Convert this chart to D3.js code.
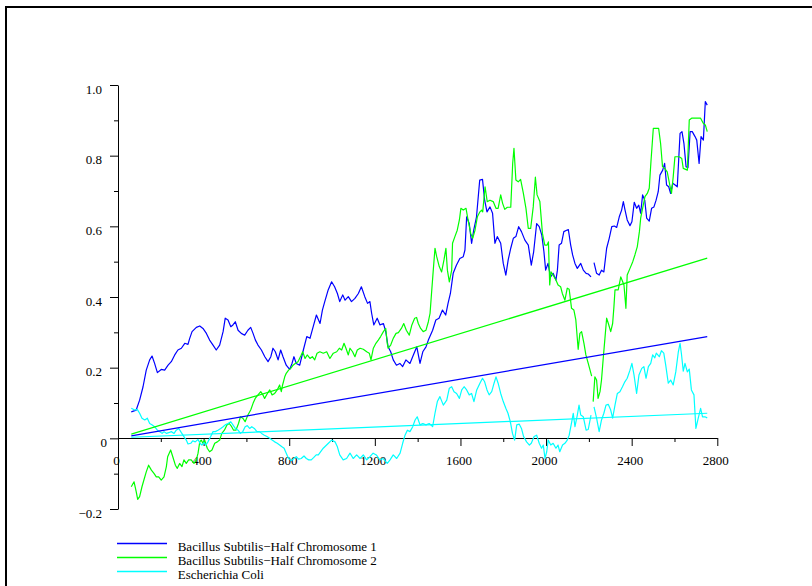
<!DOCTYPE html>
<html>
<head>
<meta charset="utf-8">
<script src="https://cdn.jsdelivr.net/npm/d3@7"></script>
<style>
  html, body { margin: 0; padding: 0; background: #fff; }
  svg { display: block; }
  text { font-family: "Liberation Serif", "Times New Roman", serif; font-size: 13px; fill: #000; }
</style>
</head>
<body>
<svg id="chart" width="812" height="586"></svg>
<script>
// Cumulative skew curves: [position, value]; null marks the break in each record.
const chromosome1 = [
  [62,0.075],[85,0.080],[101,0.108],[117,0.146],[132,0.193],[148,0.222],[159,0.233],[171,0.212],[184,0.186],[202,0.195],
  [218,0.193],[234,0.207],[249,0.217],[265,0.236],[280,0.250],[296,0.255],[312,0.269],[327,0.266],[335,0.283],[346,0.302],
  [366,0.314],[382,0.318],[397,0.311],[413,0.297],[428,0.278],[444,0.264],[459,0.250],[475,0.264],[491,0.302],[501,0.340],
  [514,0.335],[527,0.316],[537,0.321],[548,0.330],[561,0.306],[576,0.297],[592,0.292],[607,0.306],[620,0.314],[631,0.297],
  [642,0.278],[654,0.264],[670,0.250],[686,0.231],[701,0.217],[714,0.231],[724,0.255],[735,0.245],[748,0.222],[760,0.250],
  [771,0.231],[786,0.207],[802,0.195],[813,0.212],[822,0.231],[833,0.212],[849,0.207],[866,0.250],[882,0.288],[897,0.283],
  [912,0.316],[927,0.349],[944,0.325],[955,0.363],[966,0.387],[982,0.420],[998,0.443],[1012,0.429],[1025,0.410],[1036,0.387],
  [1050,0.406],[1061,0.391],[1076,0.401],[1091,0.387],[1107,0.396],[1123,0.410],[1137,0.429],[1153,0.401],[1166,0.382],[1177,0.387],
  [1185,0.354],[1195,0.321],[1211,0.340],[1224,0.321],[1240,0.325],[1251,0.302],[1262,0.259],[1274,0.245],[1286,0.222],[1301,0.207],
  [1317,0.212],[1330,0.203],[1345,0.222],[1364,0.212],[1380,0.236],[1396,0.259],[1411,0.212],[1424,0.245],[1439,0.259],[1450,0.278],
  [1470,0.306],[1485,0.335],[1500,0.340],[1516,0.363],[1531,0.349],[1542,0.382],[1553,0.410],[1566,0.467],[1581,0.490],[1597,0.509],
  [1613,0.514],[1621,0.533],[1629,0.627],[1641,0.608],[1652,0.552],[1662,0.589],[1675,0.627],[1690,0.731],[1703,0.733],[1713,0.674],
  [1724,0.641],[1738,0.655],[1750,0.637],[1761,0.552],[1772,0.571],[1788,0.552],[1800,0.495],[1812,0.462],[1823,0.505],[1835,0.538],
  [1847,0.566],[1859,0.571],[1872,0.599],[1885,0.585],[1901,0.561],[1917,0.547],[1931,0.490],[1942,0.528],[1956,0.608],[1968,0.599],
  [1980,0.575],[1990,0.528],[1998,0.476],[2009,0.495],[2021,0.457],[2033,0.467],[2046,0.448],[2053,0.476],[2061,0.547],[2072,0.552],
  [2083,0.585],[2096,0.589],[2104,0.591],[2115,0.547],[2124,0.519],[2135,0.495],[2146,0.481],[2162,0.495],[2174,0.476],[2187,0.467],
  [2197,0.465],[2210,0.457],
  null,
  [2224,0.497],[2236,0.467],[2248,0.462],[2259,0.476],[2270,0.471],[2283,0.538],[2295,0.566],[2307,0.599],[2319,0.601],[2330,0.597],
  [2342,0.627],[2353,0.646],[2361,0.670],[2369,0.646],[2379,0.618],[2392,0.602],[2401,0.613],[2412,0.668],[2423,0.651],[2433,0.660],
  [2442,0.637],[2451,0.689],[2461,0.674],[2470,0.623],[2482,0.615],[2493,0.651],[2504,0.655],[2514,0.674],[2524,0.698],[2532,0.745],
  [2545,0.759],[2554,0.778],[2563,0.717],[2573,0.712],[2582,0.693],[2592,0.722],[2603,0.717],[2613,0.712],[2626,0.863],[2635,0.868],
  [2644,0.835],[2654,0.769],[2663,0.766],[2673,0.868],[2683,0.868],[2696,0.854],[2704,0.844],[2715,0.778],[2724,0.854],[2735,0.844],
  [2744,0.953],[2753,0.943]
];

const chromosome2 = [
  [62,-0.137],[75,-0.123],[85,-0.151],[92,-0.173],[101,-0.165],[112,-0.137],[121,-0.118],[132,-0.095],[143,-0.076],[156,-0.090],
  [168,-0.099],[179,-0.109],[190,-0.109],[202,-0.118],[215,-0.109],[226,-0.080],[232,-0.052],[246,-0.033],[256,-0.052],[268,-0.076],
  [277,-0.085],[288,-0.071],[299,-0.080],[308,-0.061],[319,-0.071],[330,-0.061],[342,-0.061],[355,-0.071],[366,-0.061],[374,-0.042],
  [382,-0.010],[389,-0.005],[397,-0.014],[405,-0.005],[417,-0.028],[428,-0.038],[439,-0.033],[452,-0.014],[464,-0.010],[475,-0.005],
  [485,0.014],[497,0.023],[509,0.038],[520,0.042],[531,0.033],[540,0.023],[551,0.023],[563,0.042],[572,0.061],[583,0.057],
  [594,0.047],[607,0.066],[620,0.080],[631,0.099],[641,0.113],[654,0.123],[667,0.132],[677,0.123],[685,0.113],[698,0.127],
  [709,0.137],[720,0.123],[732,0.127],[744,0.137],[755,0.151],[763,0.132],[769,0.151],[779,0.174],[786,0.184],[797,0.193],
  [807,0.198],[818,0.207],[828,0.212],[841,0.217],[854,0.233],[863,0.245],[874,0.226],[884,0.236],[897,0.226],[908,0.231],
  [919,0.222],[930,0.241],[943,0.245],[959,0.241],[975,0.245],[990,0.226],[1006,0.241],[1022,0.245],[1034,0.255],[1045,0.250],
  [1056,0.269],[1065,0.255],[1076,0.236],[1084,0.255],[1096,0.245],[1107,0.231],[1118,0.250],[1131,0.255],[1146,0.252],[1162,0.245],
  [1174,0.241],[1182,0.222],[1193,0.255],[1205,0.269],[1216,0.278],[1227,0.288],[1240,0.302],[1251,0.311],[1258,0.269],[1262,0.255],
  [1274,0.264],[1286,0.283],[1299,0.297],[1310,0.299],[1324,0.311],[1335,0.325],[1347,0.306],[1361,0.292],[1373,0.321],[1386,0.340],
  [1395,0.342],[1403,0.325],[1414,0.311],[1426,0.302],[1439,0.306],[1450,0.330],[1458,0.354],[1466,0.420],[1473,0.476],[1481,0.538],
  [1489,0.514],[1501,0.486],[1512,0.471],[1523,0.505],[1532,0.538],[1539,0.476],[1548,0.443],[1559,0.476],[1563,0.552],[1574,0.571],
  [1585,0.589],[1595,0.618],[1602,0.651],[1613,0.646],[1626,0.651],[1637,0.613],[1648,0.580],[1657,0.566],[1668,0.589],[1679,0.627],
  [1691,0.641],[1699,0.646],[1704,0.641],[1715,0.712],[1725,0.670],[1738,0.674],[1753,0.670],[1766,0.651],[1776,0.651],[1788,0.689],
  [1797,0.665],[1807,0.648],[1819,0.654],[1835,0.654],[1844,0.778],[1850,0.821],[1859,0.731],[1870,0.726],[1881,0.733],[1894,0.693],
  [1906,0.651],[1917,0.594],[1928,0.594],[1940,0.655],[1950,0.739],[1958,0.689],[1971,0.670],[1983,0.580],[1994,0.547],[2005,0.547],
  [2011,0.556],[2017,0.434],[2023,0.471],[2033,0.462],[2046,0.448],[2056,0.434],[2068,0.429],[2076,0.410],[2088,0.391],[2099,0.425],
  [2108,0.422],[2119,0.368],[2130,0.363],[2139,0.335],[2150,0.252],[2158,0.297],[2166,0.302],[2177,0.269],[2186,0.236],[2197,0.212],
  [2213,0.176],
  null,
  [2220,0.104],[2228,0.174],[2236,0.165],[2243,0.113],[2252,0.132],[2259,0.165],[2267,0.226],[2275,0.283],[2283,0.340],[2291,0.325],
  [2302,0.302],[2311,0.325],[2317,0.372],[2322,0.420],[2337,0.420],[2349,0.457],[2358,0.443],[2364,0.434],[2373,0.368],[2379,0.462],
  [2392,0.481],[2405,0.500],[2415,0.519],[2426,0.542],[2436,0.585],[2442,0.623],[2451,0.651],[2462,0.684],[2473,0.693],[2482,0.708],
  [2490,0.783],[2501,0.877],[2517,0.877],[2526,0.877],[2535,0.835],[2544,0.769],[2554,0.764],[2566,0.754],[2578,0.717],[2586,0.693],
  [2594,0.740],[2602,0.797],[2622,0.797],[2634,0.792],[2641,0.764],[2660,0.759],[2669,0.901],[2680,0.906],[2704,0.906],[2722,0.906],
  [2735,0.891],[2744,0.887],[2753,0.868]
];

const ecoli = [
  [62,0.085],[78,0.080],[90,0.082],[101,0.071],[112,0.057],[125,0.052],[137,0.057],[148,0.042],[160,0.038],[171,0.033],
  [184,0.023],[195,0.019],[206,0.014],[215,0.019],[226,0.014],[237,0.016],[249,0.019],[262,0.014],[272,0.023],[284,0.028],
  [296,0.016],[308,0.005],[319,-0.005],[327,-0.016],[340,-0.014],[349,-0.007],[361,-0.010],[374,-0.003],[383,-0.014],[392,-0.019],
  [402,-0.012],[411,-0.019],[420,-0.010],[433,0.005],[444,0.019],[455,0.019],[467,0.023],[480,0.028],[491,0.033],[501,0.038],
  [514,0.042],[527,0.047],[537,0.038],[548,0.028],[561,0.023],[572,0.014],[583,0.019],[594,0.033],[604,0.036],[615,0.028],
  [625,0.033],[637,0.028],[649,0.019],[661,0.019],[671,0.014],[684,0.009],[696,0.005],[709,0.000],[720,-0.005],[732,-0.010],
  [744,-0.014],[755,-0.019],[766,-0.024],[776,-0.028],[786,-0.042],[797,-0.057],[810,-0.063],[822,-0.057],[833,-0.052],[844,-0.059],
  [856,-0.057],[869,-0.050],[880,-0.057],[891,-0.061],[903,-0.061],[915,-0.054],[926,-0.047],[936,-0.047],[959,-0.028],[983,-0.014],
  [998,-0.005],[1014,-0.010],[1025,-0.024],[1036,-0.047],[1052,-0.061],[1068,-0.057],[1084,-0.042],[1099,-0.057],[1115,-0.047],[1131,-0.057],
  [1146,-0.047],[1162,-0.061],[1177,-0.052],[1192,-0.042],[1207,-0.047],[1223,-0.061],[1238,-0.057],[1258,-0.071],[1271,-0.061],[1286,-0.047],
  [1302,-0.057],[1318,-0.042],[1330,-0.014],[1341,0.009],[1352,0.023],[1364,0.019],[1377,0.033],[1388,0.052],[1398,0.061],[1411,0.038],
  [1424,0.042],[1439,0.038],[1454,0.042],[1470,0.033],[1481,0.071],[1492,0.104],[1504,0.118],[1520,0.094],[1536,0.108],[1548,0.142],
  [1559,0.146],[1570,0.132],[1582,0.127],[1595,0.113],[1606,0.137],[1617,0.146],[1629,0.137],[1641,0.123],[1652,0.127],[1663,0.104],
  [1676,0.137],[1691,0.156],[1703,0.170],[1713,0.160],[1724,0.137],[1734,0.123],[1746,0.132],[1757,0.156],[1766,0.174],[1776,0.156],
  [1788,0.127],[1800,0.104],[1812,0.085],[1822,0.071],[1833,0.047],[1843,0.014],[1853,-0.005],[1863,0.038],[1875,0.040],[1885,0.028],
  [1895,0.005],[1909,-0.010],[1922,-0.019],[1931,-0.014],[1944,0.005],[1956,0.009],[1968,-0.014],[1979,-0.028],[1987,-0.019],[1995,-0.057],
  [2003,-0.038],[2010,-0.005],[2022,-0.019],[2033,-0.014],[2046,-0.028],[2056,-0.019],[2064,-0.038],[2077,-0.019],[2088,-0.014],[2099,-0.005],
  [2108,0.009],[2120,0.047],[2127,0.071],[2135,0.033],[2146,0.066],[2154,0.094],[2162,0.066],[2174,0.061],[2187,0.023],[2197,0.025],
  [2210,0.066],
  null,
  [2224,0.089],[2236,0.057],[2248,0.019],[2259,0.052],[2270,0.071],[2280,0.094],[2291,0.096],[2302,0.080],[2311,0.057],[2322,0.094],
  [2333,0.127],[2345,0.132],[2357,0.146],[2368,0.160],[2379,0.170],[2392,0.193],[2401,0.212],[2411,0.179],[2423,0.127],[2434,0.179],
  [2447,0.198],[2457,0.203],[2467,0.170],[2478,0.203],[2489,0.212],[2498,0.236],[2508,0.228],[2515,0.241],[2529,0.231],[2539,0.248],
  [2550,0.241],[2559,0.207],[2571,0.156],[2582,0.165],[2594,0.151],[2606,0.188],[2618,0.245],[2626,0.269],[2633,0.236],[2641,0.190],
  [2649,0.212],[2660,0.188],[2669,0.196],[2679,0.137],[2691,0.123],[2700,0.028],[2711,0.057],[2722,0.085],[2731,0.061],[2742,0.061],
  [2753,0.058]
];

// Straight-line trends for each record: [start], [end].
const chromosome1Trend = [[62,0.007],[2753,0.288]];
const chromosome2Trend = [[62,0.012],[2753,0.510]];
const ecoliTrend = [[62,0.003],[2753,0.071]];

const seriesNames = [
  "Bacillus Subtilis\u2212Half Chromosome 1",
  "Bacillus Subtilis\u2212Half Chromosome 2",
  "Escherichia Coli"
];
const seriesColors = ["#0000ff", "#00ff00", "#00ffff"];

const xMajorTicks = [0, 400, 800, 1200, 1600, 2000, 2400, 2800];
const xMinorTicks = [200, 600, 1000, 1400, 1800, 2200, 2600];
const yMajorTicks = [-0.2, 0, 0.2, 0.4, 0.6, 0.8, 1.0];
const yTickLabels = ["\u22120.2", "0", "0.2", "0.4", "0.6", "0.8", "1.0"];
const yMinorTicks = [-0.1, 0.1, 0.3, 0.5, 0.7, 0.9];

const svg = d3.select("#chart");

// Figure frame (top and left edges)
svg.append("path")
  .attr("d", "M6,586V7H812")
  .attr("fill", "none")
  .attr("stroke", "#000")
  .attr("stroke-width", 2);

const x = d3.scaleLinear().domain([0, 2800]).range([118, 717.3]);
const y = d3.scaleLinear().domain([-0.2, 1.0]).range([509, 85]);

// X axis sits on the zero line (snapped to the pixel grid for a crisp 1px rule)
const xAxisG = svg.append("g").attr("transform", `translate(0,${Math.round(y(0))})`);
xAxisG.append("g")
  .call(d3.axisBottom(x).tickValues(xMinorTicks).tickSize(4).tickSizeOuter(0).tickFormat(""))
  .call(g => g.select(".domain").remove());
xAxisG.append("g")
  .call(d3.axisBottom(x).tickValues(xMajorTicks).tickSize(8).tickSizeOuter(0).tickFormat(d3.format("d")))
  .call(g => g.selectAll("text")
    .attr("y", 27).attr("dy", null).attr("dx", -2)
    .attr("font-family", null).attr("font-size", null));

// Y axis
const yAxisG = svg.append("g").attr("transform", `translate(${Math.round(x(0))},0)`);
yAxisG.append("g")
  .call(d3.axisLeft(y).tickValues(yMinorTicks).tickSize(4).tickSizeOuter(0).tickFormat(""))
  .call(g => g.select(".domain").remove());
yAxisG.append("g")
  .call(d3.axisLeft(y).tickValues(yMajorTicks).tickSize(8).tickSizeOuter(0)
    .tickFormat((d, i) => yTickLabels[i]))
  .call(g => g.selectAll("text")
    .attr("y", 8.3).attr("dy", null)
    .attr("x", d => d === 0 ? -11 : -16)
    .attr("font-family", null).attr("font-size", null));

svg.selectAll(".domain, .tick line").attr("stroke", "#000").attr("stroke-width", 1);
svg.selectAll(".tick text").attr("fill", "#000");

const line = d3.line()
  .defined(d => d !== null)
  .x(d => x(d[0]))
  .y(d => y(d[1]));

const curves = [chromosome1, chromosome2, ecoli];
const trends = [chromosome1Trend, chromosome2Trend, ecoliTrend];

const plot = svg.append("g");
curves.forEach((data, i) => {
  plot.append("path")
    .datum(data)
    .attr("fill", "none")
    .attr("stroke", seriesColors[i])
    .attr("stroke-width", 1.2)
    .attr("stroke-linejoin", "round")
    .attr("d", line);
});
trends.forEach((data, i) => {
  plot.append("path")
    .datum(data)
    .attr("fill", "none")
    .attr("stroke", seriesColors[i])
    .attr("stroke-width", 1.2)
    .attr("d", line);
});

// Legend
const legend = svg.append("g");
seriesNames.forEach((name, i) => {
  const ly = 543.5 + i * 14;
  legend.append("line")
    .attr("x1", 117).attr("x2", 167)
    .attr("y1", ly).attr("y2", ly)
    .attr("stroke", seriesColors[i])
    .attr("stroke-width", 1.6);
  legend.append("text")
    .attr("x", 177.7)
    .attr("y", ly + 7.3)
    .text(name);
});
</script>
</body>
</html>
